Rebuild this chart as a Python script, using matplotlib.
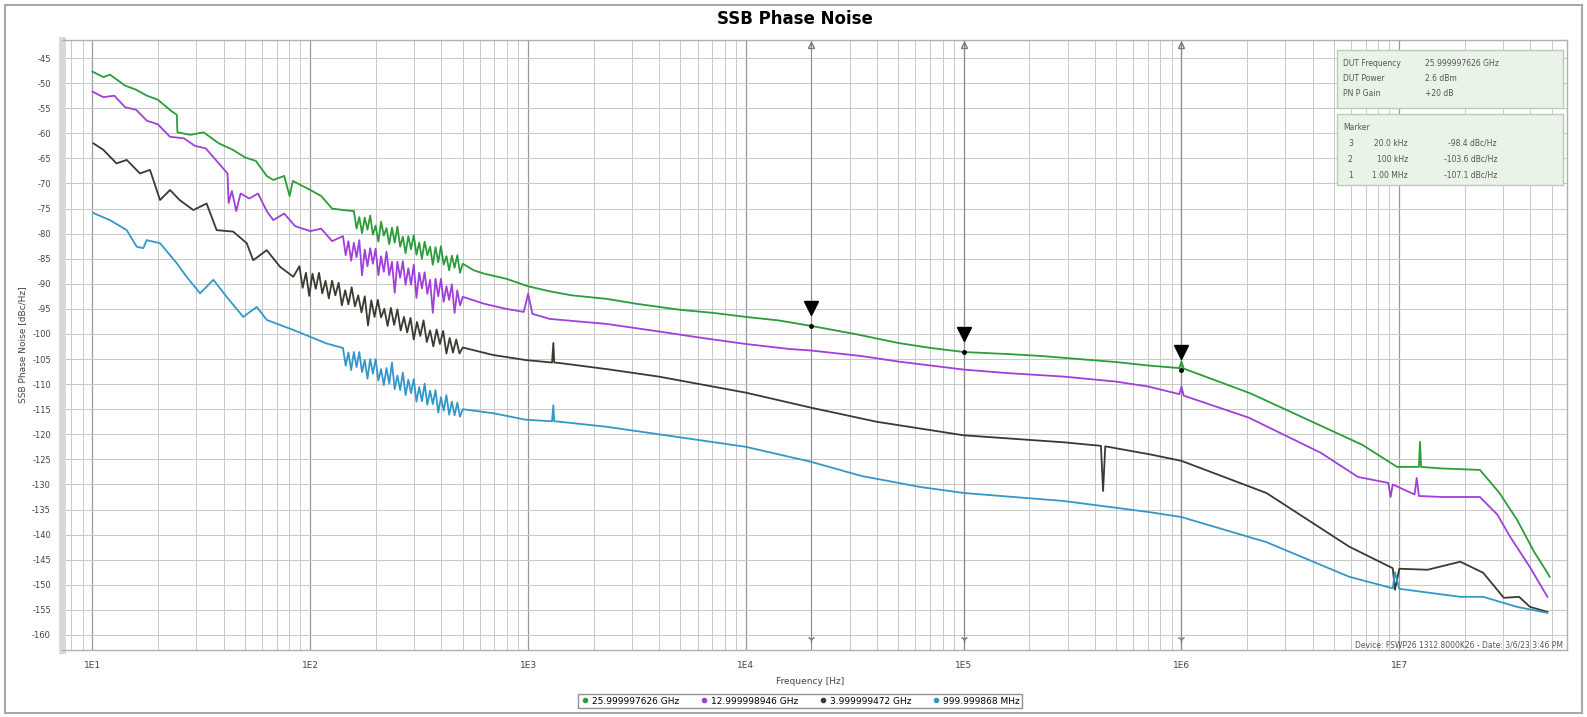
import numpy as np
import matplotlib
matplotlib.use("Agg")
import matplotlib.pyplot as plt
from matplotlib.patches import Rectangle

# ---- data (log10 of offset frequency, SSB phase noise in dBc/Hz) ----
green_lf = [1.00, 1.05, 1.08, 1.15, 1.20, 1.25, 1.30, 1.36, 1.387, 1.39, 1.45, 1.51, 1.58, 1.645,
            1.70, 1.75, 1.80, 1.83, 1.88, 1.905, 1.92, 2.00, 2.05, 2.10, 2.15,
            2.2000, 2.2125, 2.2250, 2.2375, 2.2500, 2.2625, 2.2750, 2.2875, 2.3000, 2.3125,
            2.3250, 2.3375, 2.3500, 2.3625, 2.3750, 2.3875, 2.4000, 2.4125, 2.4250, 2.4375,
            2.4500, 2.4625, 2.4750, 2.4875, 2.5000, 2.5125, 2.5250, 2.5375, 2.5500, 2.5625,
            2.5750, 2.5875, 2.6000, 2.6125, 2.6250, 2.6375, 2.6500, 2.6625, 2.6750, 2.6875, 2.7000,
            2.75, 2.80, 2.90, 3.00, 3.10, 3.20, 3.36,
            3.50, 3.70, 3.85, 4.00, 4.15, 4.30, 4.50, 4.70, 4.85, 5.00, 5.20, 5.36, 5.50, 5.70,
            5.85, 5.99, 6.00, 6.01, 6.314, 6.50, 6.65, 6.83, 6.99, 7.09, 7.095, 7.10, 7.19, 7.37,
            7.46, 7.54, 7.62, 7.68, 7.69]
green_db = [-47.7, -48.8, -48.3, -50.5, -51.3, -52.5, -53.3, -55.5, -56.3, -59.8, -60.3, -59.8, -62.0, -63.3,
            -64.8, -65.5, -68.5, -69.3, -68.5, -72.5, -69.5, -71.3, -72.5, -75.0, -75.3,
            -75.5, -79.0, -76.7, -79.9, -76.8, -79.2, -76.4, -80.2, -78.4, -81.6,
            -77.6, -80.4, -78.9, -82.1, -78.8, -81.8, -78.6, -82.6, -80.6, -83.9,
            -80.5, -83.1, -80.3, -84.2, -81.8, -85.0, -81.6, -84.3, -82.6, -86.2,
            -82.7, -85.7, -82.5, -86.2, -84.5, -87.3, -84.4, -86.8, -84.3, -87.8, -86.0,
            -87.3, -88.0, -89.0, -90.5, -91.5, -92.3, -93.0,
            -94.0, -95.2, -95.8, -96.6, -97.3, -98.4, -100.0, -101.8, -102.8, -103.6, -104.0, -104.4, -104.9, -105.6,
            -106.3, -106.8, -105.5, -106.9, -111.8, -115.5, -118.5, -122.1, -126.5, -126.5, -121.5, -126.5, -126.8, -127.1,
            -131.7, -137.0, -143.5, -147.6, -148.4]

purple_lf = [1.00, 1.05, 1.10, 1.15, 1.20, 1.25, 1.30, 1.356, 1.42, 1.47, 1.52, 1.57, 1.62, 1.625,
             1.64, 1.66, 1.68, 1.72, 1.76, 1.80, 1.83, 1.88, 1.93, 2.00, 2.05, 2.10,
             2.1500, 2.1625, 2.1750, 2.1875, 2.2000, 2.2125, 2.2250, 2.2375, 2.2500, 2.2625,
             2.2750, 2.2875, 2.3000, 2.3125, 2.3250, 2.3375, 2.3500, 2.3625, 2.3750, 2.3875,
             2.4000, 2.4125, 2.4250, 2.4375, 2.4500, 2.4625, 2.4750, 2.4875, 2.5000, 2.5125,
             2.5250, 2.5375, 2.5500, 2.5625, 2.5750, 2.5875, 2.6000, 2.6125, 2.6250, 2.6375,
             2.6500, 2.6625, 2.6750, 2.6875, 2.7000,
             2.80, 2.90, 2.98, 3.00, 3.02, 3.10, 3.36, 3.60, 3.80, 4.00, 4.20, 4.30, 4.53, 4.70,
             5.00, 5.20, 5.46, 5.70, 5.85, 5.99, 6.00, 6.01, 6.31, 6.64, 6.81, 6.95, 6.96, 6.97,
             7.07, 7.08, 7.09, 7.20, 7.37, 7.45, 7.51, 7.60, 7.68]
purple_db = [-51.7, -52.8, -52.5, -54.8, -55.3, -57.5, -58.2, -60.7, -61.0, -62.5, -63.0, -65.5, -68.0, -73.9,
             -71.5, -75.5, -72.0, -73.0, -72.0, -75.5, -77.3, -76.0, -78.5, -79.5, -79.0, -81.5,
             -80.5, -84.3, -81.5, -85.4, -81.8, -84.7, -81.3, -88.3, -83.2, -86.5,
             -82.9, -86.0, -83.0, -88.3, -84.5, -87.6, -83.6, -88.3, -85.6, -91.8,
             -85.6, -88.8, -85.5, -90.2, -86.9, -90.2, -86.2, -92.8, -87.8, -90.9,
             -87.7, -92.0, -89.2, -95.8, -89.0, -92.5, -89.0, -93.6, -90.5, -93.2,
             -90.1, -95.8, -91.3, -94.3, -92.6,
             -94.0, -95.0, -95.6, -92.0, -96.0, -97.0, -98.0, -99.5, -100.8, -102.0, -103.0, -103.3, -104.4, -105.5,
             -107.1, -107.8, -108.5, -109.5, -110.5, -112.0, -110.5, -112.3, -116.7, -123.7, -128.5, -129.7, -132.5, -130.0,
             -132.0, -128.7, -132.3, -132.5, -132.5, -136.0, -140.5, -146.5, -152.4]

black_lf = [1.004, 1.05, 1.11, 1.157, 1.218, 1.264, 1.31, 1.356, 1.40, 1.463, 1.524, 1.57, 1.646, 1.708,
            1.738, 1.80, 1.861, 1.922,
            1.950, 1.965, 1.980, 1.995, 2.010, 2.025, 2.040, 2.055, 2.070, 2.085, 2.100, 2.115,
            2.130, 2.145, 2.160, 2.175, 2.190, 2.205, 2.220, 2.235, 2.250, 2.265, 2.280, 2.295,
            2.310, 2.325, 2.340, 2.355, 2.370, 2.385, 2.400, 2.415, 2.430, 2.445, 2.460, 2.475,
            2.490, 2.505, 2.520, 2.535, 2.550, 2.565, 2.580, 2.595, 2.610, 2.625, 2.640, 2.655,
            2.670, 2.685, 2.700,
            2.84, 2.99, 3.11, 3.116, 3.12, 3.146, 3.36, 3.60, 4.00,
            4.30, 4.60, 5.00, 5.46, 5.63, 5.64, 5.65, 5.855, 6.00, 6.39, 6.77, 6.97, 6.98, 7.00,
            7.13, 7.28, 7.385, 7.48, 7.55, 7.60, 7.68]
black_db = [-62.0, -63.3, -66.0, -65.3, -68.0, -67.3, -73.3, -71.3, -73.3, -75.3, -74.0, -79.3, -79.6, -81.9,
            -85.3, -83.3, -86.6, -88.6,
            -86.5, -90.8, -87.8, -92.4, -88.0, -91.0, -87.8, -91.9, -89.4, -92.9, -89.4, -92.3,
            -89.8, -94.3, -91.3, -94.1, -90.7, -94.5, -92.3, -95.7, -92.5, -98.3, -93.3, -96.6,
            -93.2, -96.7, -95.0, -98.4, -94.8, -98.2, -95.1, -99.3, -96.6, -99.7, -96.8, -101.1,
            -97.6, -100.4, -97.3, -101.6, -99.3, -102.5, -99.1, -102.0, -99.4, -103.9, -100.8, -103.7,
            -101.1, -103.9, -102.7,
            -104.2, -105.2, -105.7, -101.8, -105.7, -105.8, -107.0, -108.5, -111.7,
            -114.7, -117.5, -120.2, -121.6, -122.3, -131.3, -122.4, -124.0, -125.3, -131.7, -142.4, -146.7, -151.0, -146.8,
            -147.0, -145.4, -147.6, -152.6, -152.4, -154.4, -155.4]

cyan_lf = [1.004, 1.08, 1.157, 1.203, 1.233, 1.249, 1.31, 1.387, 1.432, 1.494, 1.555, 1.616, 1.692, 1.754,
           1.80, 1.922, 2.075,
           2.1500, 2.1625, 2.1750, 2.1875, 2.2000, 2.2125, 2.2250, 2.2375, 2.2500, 2.2625,
           2.2750, 2.2875, 2.3000, 2.3125, 2.3250, 2.3375, 2.3500, 2.3625, 2.3750, 2.3875,
           2.4000, 2.4125, 2.4250, 2.4375, 2.4500, 2.4625, 2.4750, 2.4875, 2.5000, 2.5125,
           2.5250, 2.5375, 2.5500, 2.5625, 2.5750, 2.5875, 2.6000, 2.6125, 2.6250, 2.6375,
           2.6500, 2.6625, 2.6750, 2.6875, 2.7000,
           2.84, 2.99, 3.11, 3.116, 3.12, 3.146, 3.36, 3.60, 4.00, 4.30, 4.53, 4.80, 5.00, 5.46, 5.85, 6.00,
           6.39, 6.77, 6.97, 6.98, 7.00, 7.28, 7.385, 7.54, 7.68]
cyan_db = [-75.9, -77.3, -79.3, -82.6, -82.9, -81.3, -81.9, -85.9, -88.6, -91.9, -89.2, -92.6, -96.6, -94.6,
           -97.2, -99.2, -101.9,
           -102.8, -106.3, -103.7, -107.2, -103.6, -106.6, -103.6, -107.6, -105.2, -108.9,
           -105.0, -107.9, -105.0, -109.3, -107.0, -110.2, -106.8, -109.9, -105.7, -111.0,
           -108.3, -111.2, -107.7, -112.2, -109.1, -111.8, -109.0, -113.5, -110.6, -113.4,
           -109.9, -114.1, -111.3, -114.0, -111.2, -115.7, -112.6, -115.3, -112.2, -116.1,
           -113.5, -116.2, -113.7, -116.5, -115.0,
           -115.8, -117.1, -117.4, -114.2, -117.4, -117.5, -118.5, -120.0, -122.5, -125.5, -128.3, -130.5, -131.7, -133.3, -135.5, -136.5,
           -141.5, -148.4, -150.7, -147.5, -150.8, -152.4, -152.4, -154.4, -155.6]

legend_labels = ["25.999997626 GHz", "12.999998946 GHz", "3.999999472 GHz", "999.999868 MHz"]
colors = ["#2a9d3a", "#a03fdc", "#3b3a30", "#3398c8"]

marker_f = [2e4, 1e5, 1e6]
marker_db = [-98.4, -103.6, -107.1]
marker_rows = [("3", "20.0 kHz", "-98.4 dBc/Hz"),
               ("2", "100 kHz", "-103.6 dBc/Hz"),
               ("1", "1.00 MHz", "-107.1 dBc/Hz")]
dut_rows = [("DUT Frequency", "25.999997626 GHz"),
            ("DUT Power", "2.6 dBm"),
            ("PN P Gain", "+20 dB")]

W, H = 1587, 717
fig = plt.figure(figsize=(W / 100, H / 100), dpi=100)
fig.patch.set_facecolor("white")
# outer window frame
fig.add_artist(Rectangle((5 / W, 4 / H), 1 - 10 / W, 1 - 9 / H, transform=fig.transFigure,
                         fill=False, edgecolor="#a8a8a8", linewidth=1.5))

ax = fig.add_axes([62 / W, 1 - 650 / H, (1567 - 62) / W, (650 - 40) / H])
ax.set_xscale("log")
ax.set_xlim(10 ** 0.86, 10 ** 7.77)
ax.set_ylim(-163.0, -41.4)

ax.set_yticks(np.arange(-160, -44, 5))
ax.set_yticklabels([str(v) for v in np.arange(-160, -44, 5)], fontsize=6, color="#444")
ax.set_xticks([10 ** k for k in range(1, 8)])
ax.set_xticklabels(["1E%d" % k for k in range(1, 8)], fontsize=6.5, color="#444")
ax.xaxis.set_minor_locator(matplotlib.ticker.LogLocator(base=10, subs=np.arange(2, 10), numticks=20))
ax.xaxis.set_minor_formatter(matplotlib.ticker.NullFormatter())
ax.tick_params(which="both", length=0, pad=8)
ax.grid(True, which="major", axis="x", color="#9a9a9a", linewidth=0.9)
ax.grid(True, which="minor", axis="x", color="#c8c8c8", linewidth=0.7)
ax.grid(True, which="major", axis="y", color="#c8c8c8", linewidth=0.7)
ax.set_axisbelow(True)
for s in ax.spines.values():
    s.set_color("#b0b0b0")
    s.set_linewidth(1.0)
ax.spines["left"].set_linewidth(5)
ax.spines["left"].set_color("#d8d8d8")

series = [(green_lf, green_db), (purple_lf, purple_db), (black_lf, black_db), (cyan_lf, cyan_db)]
for (lf, db), c in zip(series, colors):
    ax.plot(10 ** np.array(lf), db, color=c, linewidth=1.3, zorder=3)

# marker lines and flags
for f in marker_f:
    ax.axvline(f, color="#8a8a8a", linewidth=0.8, zorder=2)
    ax.plot(f, -42.3, marker="^", markersize=4, markerfacecolor="none", markeredgecolor="#777", zorder=4)
    ax.plot(f, -160.8, marker="1", markersize=5, color="#777", zorder=4)
for f, v in zip(marker_f, marker_db):
    ax.plot(f, v, "o", color="black", markersize=2.5, zorder=5)
    ax.plot(f, v + 3.6, "v", color="black", markersize=10, zorder=5)

# info boxes
def box(x0, y0, x1, y1):
    ax.add_artist(Rectangle((x0 / W, 1 - y1 / H), (x1 - x0) / W, (y1 - y0) / H, transform=fig.transFigure,
                            facecolor="#e9f3e7", edgecolor="#b9ccb5", linewidth=1.0, zorder=6))

box(1337, 50, 1563, 108)
box(1337, 114, 1563, 185)
for i, (k, v) in enumerate(dut_rows):
    y = 1 - (63 + i * 15.5) / H
    fig.text(1343 / W, y, k, fontsize=5.5, color="#555", va="center", zorder=7)
    fig.text(1425 / W, y, v, fontsize=5.5, color="#555", va="center", zorder=7)
fig.text(1343 / W, 1 - 127 / H, "Marker", fontsize=5.5, color="#555", va="center", zorder=7)
for i, (n, f, v) in enumerate(marker_rows):
    y = 1 - (143 + i * 16) / H
    fig.text(1348 / W, y, n, fontsize=5.5, color="#555", va="center", zorder=7)
    fig.text(1408 / W, y, f, fontsize=5.5, color="#555", va="center", ha="right", zorder=7)
    fig.text(1497 / W, y, v, fontsize=5.5, color="#555", va="center", ha="right", zorder=7)

fig.text(1563 / W, 1 - 645 / H, "Device: FSWP26 1312.8000K26 - Date: 3/6/23 3:46 PM",
         fontsize=5.5, color="#555", ha="right", va="center")

fig.text(795 / W, 1 - 19 / H, "SSB Phase Noise", fontsize=12, fontweight="bold", ha="center", va="center")
fig.text(810 / W, 1 - 681 / H, "Frequency [Hz]", fontsize=6.5, color="#444", ha="center", va="center")
fig.text(23 / W, 1 - 345 / H, "SSB Phase Noise [dBc/Hz]", fontsize=6.5, color="#444", rotation=90,
         ha="center", va="center")

# legend
handles = [plt.Line2D([], [], linestyle="none", marker="o", markersize=3, color=c) for c in colors]
fig.legend(handles, legend_labels, loc="center", bbox_to_anchor=(800 / W, 1 - 701 / H), ncol=4,
           fontsize=6.5, frameon=True, fancybox=False, edgecolor="#777", handletextpad=0.3,
           columnspacing=2.2, borderpad=0.3, handlelength=1.0)

fig.savefig("out.png", dpi=100, facecolor="white")
